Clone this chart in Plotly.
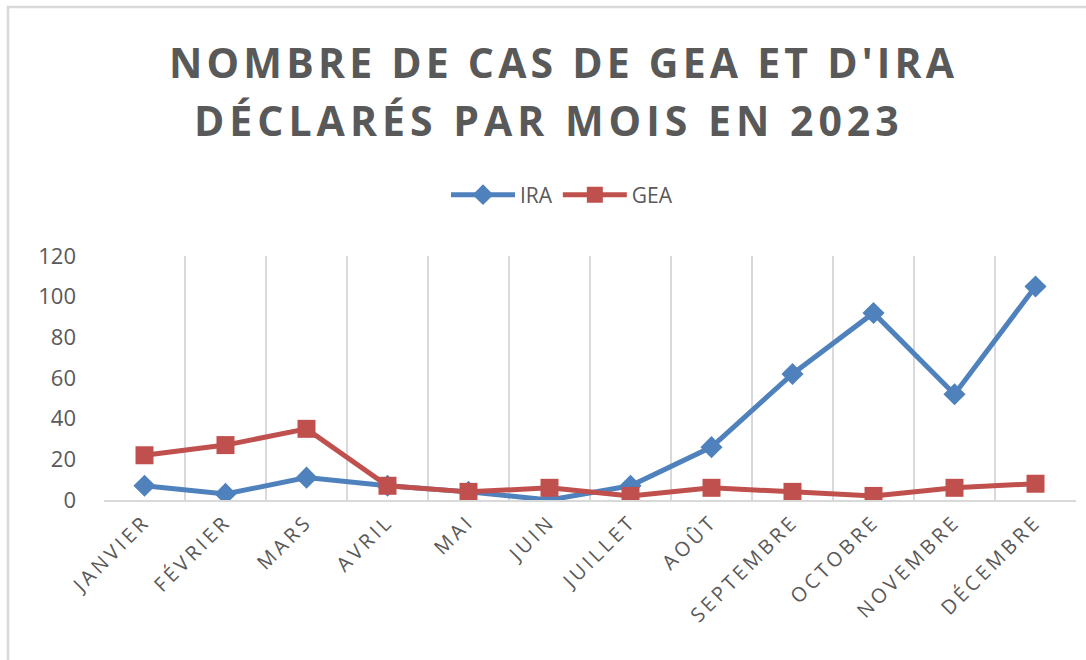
import plotly.graph_objects as go

months = ["JANVIER", "FÉVRIER", "MARS", "AVRIL", "MAI", "JUIN", "JUILLET",
          "AOÛT", "SEPTEMBRE", "OCTOBRE", "NOVEMBRE", "DÉCEMBRE"]
ira = [7, 3, 11, 7, 4, 0, 7, 26, 62, 92, 52, 105]
gea = [22, 27, 35, 7, 4, 6, 2, 6, 4, 2, 6, 8]
y_ticks = [0, 20, 40, 60, 80, 100, 120]
title_lines = ["NOMBRE DE CAS DE GEA ET D'IRA", "DÉCLARÉS PAR MOIS EN 2023"]

BLUE = "#4F81BD"
RED = "#C0504D"
GREY = "#595959"
FONT = "Open Sans"

W, H = 1086, 660
L, R, T, B = 104, 10, 256, 160
PW, PH = W - L - R, H - T - B

def px_x(x):
    return (x - L) / PW

def px_y(y):
    return (H - B - y) / PH

fig = go.Figure()
fig.add_trace(go.Scatter(x=months, y=ira, name="IRA", mode="lines+markers",
                         line=dict(color=BLUE, width=5),
                         marker=dict(symbol="diamond", size=17, color=BLUE)))
fig.add_trace(go.Scatter(x=months, y=gea, name="GEA", mode="lines+markers",
                         line=dict(color=RED, width=5),
                         marker=dict(symbol="square", size=18, color=RED)))

fig.update_layout(
    width=W, height=H,
    paper_bgcolor="white", plot_bgcolor="white",
    margin=dict(l=L, r=R, t=T, b=B, autoexpand=False),
    legend=dict(orientation="h", x=px_x(562), xanchor="center", y=px_y(195), yanchor="middle",
                font=dict(family=FONT, size=21, color=GREY), itemwidth=64,
                traceorder="normal", bgcolor="rgba(0,0,0,0)"),
    font=dict(family=FONT, color=GREY),
    showlegend=True,
)
for txt, cx, cy in [(title_lines[0], 563, 62), (title_lines[1], 549, 120)]:
    sp = "4.2px" if cx == 563 else "5px"
    fig.add_annotation(
        text='<b><span style="letter-spacing:' + sp + '">' + txt + '</span></b>',
        xref="paper", yref="paper", x=px_x(cx), y=px_y(cy),
        xanchor="center", yanchor="middle", showarrow=False,
        font=dict(family=FONT, size=41, color=GREY))

fig.update_xaxes(
    type="category", tickson="boundaries", showgrid=True, gridcolor="#D9D9D9", gridwidth=2,
    showline=True, linecolor="#D9D9D9", linewidth=2, ticks="", automargin=False,
    tickangle=-45, tickfont=dict(family=FONT, size=20, color=GREY),
    ticktext=['<span style="letter-spacing:3.5px">' + m + '</span>' for m in months],
    tickvals=months, range=[-0.5, 11.5],
)
fig.update_yaxes(
    range=[0, 120], tickvals=y_ticks, showgrid=False, zeroline=False,
    showline=False, ticklabelstandoff=27, automargin=False,
    tickfont=dict(family=FONT, size=22, color=GREY),
)
fig.add_shape(type="rect", xref="paper", yref="paper",
              x0=px_x(8), x1=px_x(1100), y0=px_y(680), y1=px_y(7),
              line=dict(color="#D9D9D9", width=2.5), fillcolor="rgba(0,0,0,0)", layer="below")

fig.write_html("out.html", config={"displayModeBar": False},
               post_script="document.body.style.margin='0';document.body.style.overflow='hidden';")
